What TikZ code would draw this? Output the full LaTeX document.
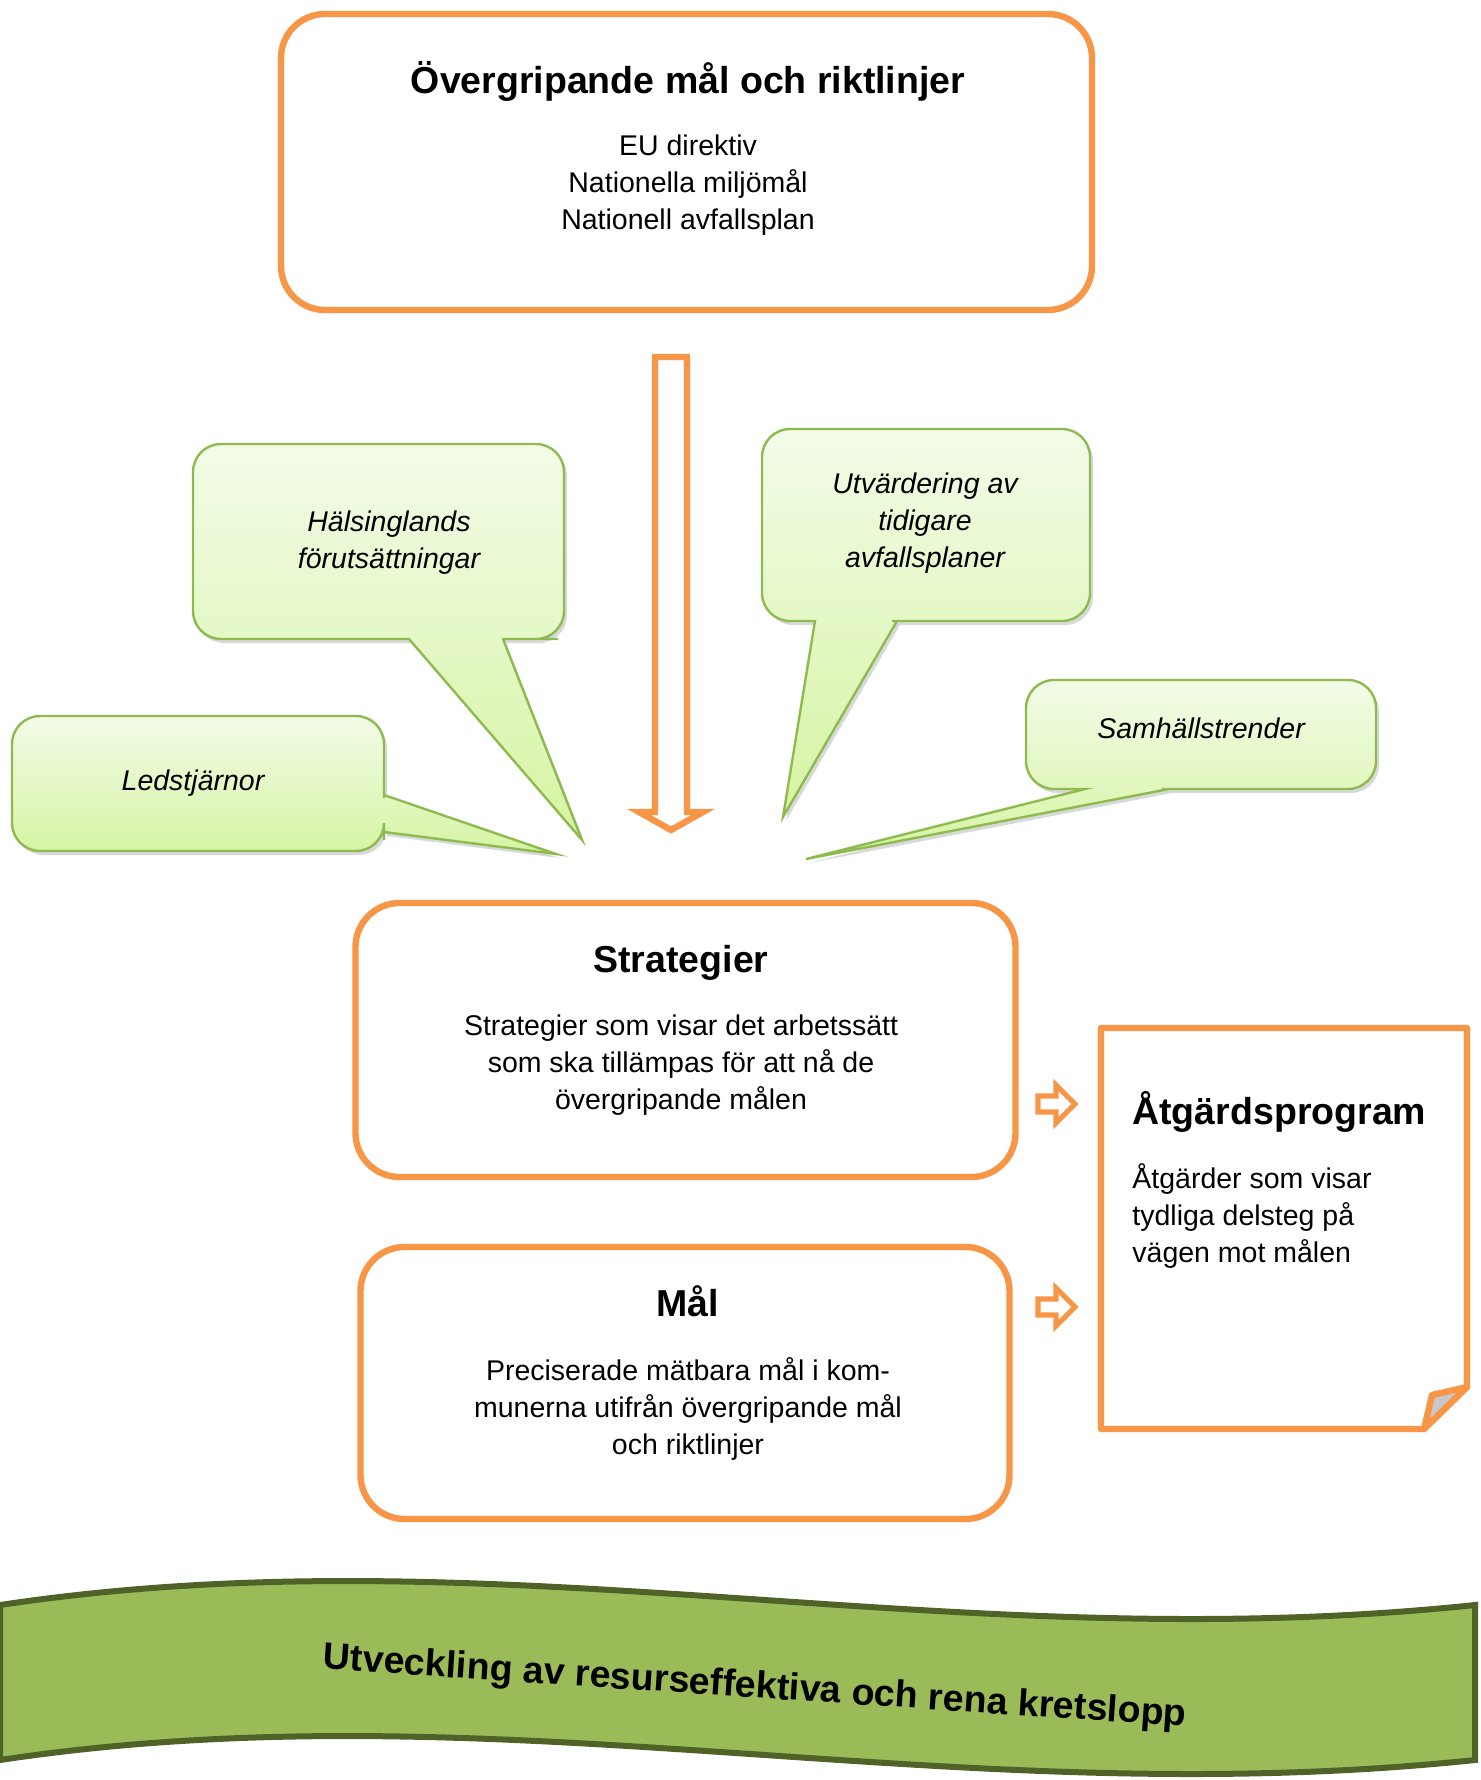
\documentclass[tikz,border=0pt]{standalone}
\usepackage{fontspec}
\setmainfont{Liberation Sans}
\usetikzlibrary{shadows}
\definecolor{orng}{HTML}{F79646}
\definecolor{gline}{HTML}{8DBB4F}
\definecolor{gtop}{HTML}{F3FBE8}
\definecolor{gbot}{HTML}{D6F4A2}
\definecolor{bfill}{HTML}{9BBB59}
\definecolor{bline}{HTML}{4F6228}
\definecolor{flapc}{HTML}{C8C8C8}
\tikzset{
 obox/.style={draw=orng, line width=3.2pt, rounded corners=22pt, fill=white},
 callout/.style={draw=gline, line width=1.2pt, top color=gtop, bottom color=gbot,
   drop shadow={shadow xshift=1.5pt, shadow yshift=-2pt, opacity=0.3, fill=gray}},
 ttl/.style={font=\fontsize{18.75}{22}\selectfont\bfseries, inner sep=0pt},
 body/.style={font=\fontsize{14.25}{18.5}\selectfont, align=center, inner sep=0pt},
 itl/.style={font=\fontsize{14.25}{18.5}\selectfont\itshape, align=center, inner sep=0pt},
 oarrow/.style={draw=orng, line width=3.2pt, fill=white, line join=miter},
 sarrow/.style={draw=orng, line width=2.6pt, fill=white, line join=miter},
}
\begin{document}
\begin{tikzpicture}[x=0.5pt, y=-0.5pt]
\useasboundingbox (0,0) rectangle (1480,1780);

% top box
\node[obox, minimum width=405.5pt, minimum height=148pt] (topbox) at (686.5,162) {};
\node[ttl] (toptitle) at (688,81.5) {Övergripande mål och riktlinjer};
\node[body] (topbody) at (688,185.5) {EU direktiv\\Nationella miljömål\\Nationell avfallsplan};

% down arrow
\draw[oarrow] (655,357) -- (687,357) -- (687,812) -- (703,812) -- (671,830) -- (639,812) -- (655,812) -- cycle;

% callout Hälsinglands
\path[callout] (564,540) [rounded corners=14pt] -- (564,639) -- (530,639) [sharp corners] -- (503,639) -- (582,840) -- (409,639) -- (380,639) [rounded corners=14pt] -- (193,639) -- (193,444) -- (564,444) -- cycle;
\node[itl] (hals) at (389,542.5) {Hälsinglands\\förutsättningar};

% callout Ledstjärnor
\path[callout] (200,716) [rounded corners=14pt] -- (384,716) -- (384,770) [sharp corners] -- (384,795) -- (556,854) -- (384,832) -- (384,840) [rounded corners=14pt] -- (384,851) -- (12,851) -- (12,716) -- cycle;
\node[itl] (led) at (193,783.5) {Ledstjärnor};

% callout Utvärdering
\path[callout] (1090,520) [rounded corners=14pt] -- (1090,621) -- (920,621) [sharp corners] -- (897,621) -- (783,817) -- (815,621) -- (800,621) [rounded corners=14pt] -- (762,621) -- (762,429) -- (1090,429) -- cycle;
\node[itl] (utv) at (925,523) {Utvärdering av\\tidigare\\avfallsplaner};

% callout Samhällstrender
\path[callout] (1376,730) [rounded corners=14pt] -- (1376,789) -- (1190,789) [sharp corners] -- (1169,789) -- (806,859) -- (1085,789) -- (1070,789) [rounded corners=14pt] -- (1026,789) -- (1026,680) -- (1376,680) -- cycle;
\node[itl] (samh) at (1201,728) {Samhällstrender};

% Strategier
\node[obox, minimum width=330pt, minimum height=137pt] (strat) at (685.5,1040) {};
\node[ttl] (strattitle) at (681,962.5) {Strategier};
\node[body] (stratbody) at (681,1065) {Strategier som visar det arbetssätt\\som ska tillämpas för att nå de\\övergripande målen};

% Mål
\node[obox, minimum width=324.5pt, minimum height=136pt] (mal) at (685,1383) {};
\node[ttl] (maltitle) at (688,1301) {Mål};
\node[body] (malbody) at (688,1408.5) {Preciserade mätbara mål i kom-\\munerna utifrån övergripande mål\\och riktlinjer};

% small arrows
\draw[sarrow] (1038,1096) -- (1056,1096) -- (1056,1085) -- (1075,1104) -- (1056,1123) -- (1056,1112) -- (1038,1112) -- cycle;
\draw[sarrow] (1038,1299) -- (1056,1299) -- (1056,1288) -- (1075,1307) -- (1056,1326) -- (1056,1315) -- (1038,1315) -- cycle;

% Åtgärdsprogram
\draw[draw=orng, line width=3.2pt, fill=white, line join=round] (1101,1028) -- (1467,1028) -- (1467,1387) -- (1424,1429) -- (1101,1429) -- cycle;
\draw[draw=orng, line width=3.2pt, fill=flapc, line join=round] (1467,1387) -- (1432,1395) -- (1424,1429) -- cycle;
\node[ttl, anchor=west] (atgtitle) at (1132,1112) {Åtgärdsprogram};
\node[body, align=left, anchor=west] (atgbody) at (1132,1216) {Åtgärder som visar\\tydliga delsteg på\\vägen mot målen};

% banner
\draw[fill=bfill, draw=bline, line width=3pt] (0,1605) .. controls (500,1530) and (950,1660) .. (1475,1605) -- (1475,1760) .. controls (950,1815) and (500,1685) .. (0,1760) -- cycle;
\node[ttl, rotate=-3.8] (ban) at (755,1688) {Utveckling av resurseffektiva och rena kretslopp};
\end{tikzpicture}
\end{document}
